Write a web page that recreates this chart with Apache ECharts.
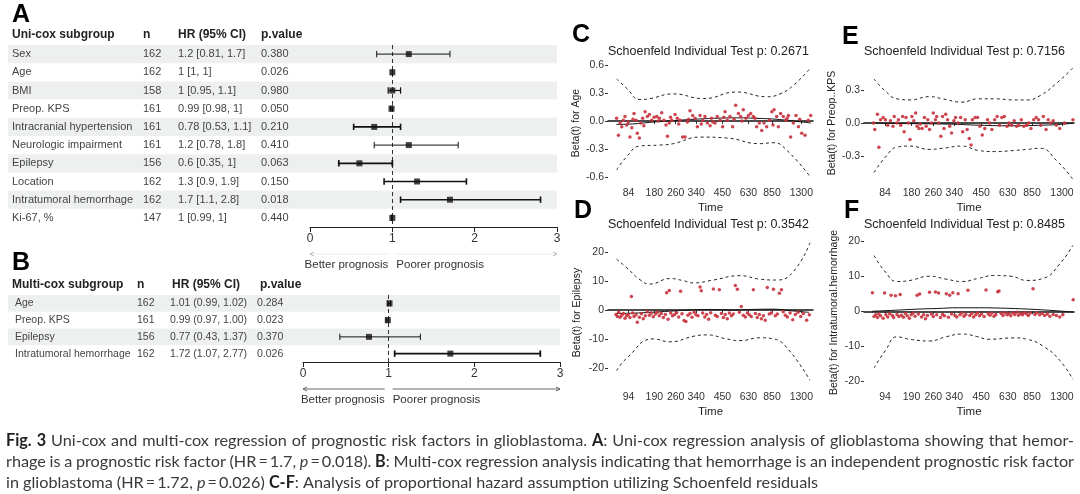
<!DOCTYPE html>
<html><head><meta charset="utf-8">
<script src="https://cdn.jsdelivr.net/npm/echarts@6/dist/echarts.min.js"></script>
<style>html,body{margin:0;padding:0;background:#fff}#c{width:1080px;height:494px}</style>
</head><body><div id="c"></div><script>
// ---------------- DATA ----------------
const uniLabels = ['Sex','Age','BMI','Preop. KPS','Intracranial hypertension','Neurologic impairment','Epilepsy','Location','Intratumoral hemorrhage','Ki-67, %'];
const uniN = [162,162,158,161,161,161,156,162,162,147];
const uniHR = [1.2,1,1,0.99,0.78,1.2,0.6,1.3,1.7,1];
const uniLow = [0.81,1,0.95,0.98,0.53,0.78,0.35,0.9,1.1,0.99];
const uniHigh = [1.7,1,1.1,1,1.1,1.8,1,1.9,2.8,1];
const uniP = ['0.380','0.026','0.980','0.050','0.210','0.410','0.063','0.150','0.018','0.440'];

const multiLabels = ['Age','Preop. KPS','Epilepsy','Intratumoral hemorrhage'];
const multiN = [162,161,156,162];
const multiHR = [1.01,0.99,0.77,1.72];
const multiLow = [0.99,0.97,0.43,1.07];
const multiHigh = [1.02,1.00,1.37,2.77];
const multiP = ['0.284','0.023','0.370','0.026'];

const hrTicks = [0,1,2,3];

// Schoenfeld panels: x = transformed time (0-100), labels at tick positions
const timeTickPos = [10,22.6,33,43,55.8,68.5,80,94.3];
const timeLabelsCE = ['84','180','260','340','450','630','850','1300'];
const timeLabelsDF = ['94','190','260','340','450','630','850','1300'];
const betaTicksSmall = [-0.6,-0.3,0,0.3,0.6];
const betaTicksE = [-0.3,0,0.3];
const betaTicksLarge = [-20,-10,0,10,20];

const ageResid = [[4.2,0.03],[5.1,-0.15],[5.9,-0.02],[6.7,-0.06],[7.5,0.01],[8.3,0.05],[9.1,-0.04],[9.9,-0.01],[10.7,-0.17],[11.6,-0.07],[12.2,0.02],[12.7,0.08],[13.7,0.01],[14.3,-0.13],[15.3,-0.18],[16.0,-0.02],[16.9,0.03],[17.5,-0.05],[18.1,0.10],[19.2,0.05],[20.2,0.07],[21.3,0.01],[22.5,0.04],[23.8,0.05],[24.5,0.0],[25.1,0.03],[26.2,0.09],[27.3,0.01],[28.3,-0.04],[29.0,-0.16],[29.9,-0.02],[30.5,0.04],[31.1,0.01],[32.7,0.07],[33.8,0.03],[34.5,-0.03],[35.1,0.01],[36.4,-0.17],[37.6,-0.17],[38.7,-0.01],[39.3,0.02],[40.0,0.11],[41.3,0.06],[42.5,0.03],[43.6,-0.06],[44.9,0.06],[45.5,-0.03],[46.2,0.01],[47.3,0.05],[48.5,-0.02],[49.8,-0.05],[50.5,0.03],[51.1,-0.01],[52.2,-0.02],[53.3,0.05],[54.7,0.01],[55.9,-0.06],[56.5,0.04],[57.1,0.10],[58.2,0.01],[59.5,0.05],[60.8,-0.06],[61.5,0.02],[62.3,0.17],[63.6,0.08],[64.7,0.05],[65.3,0.0],[66.0,0.12],[67.3,0.03],[68.5,0.06],[69.6,0.08],[70.9,0.05],[71.7,0.03],[72.5,-0.06],[73.8,-0.02],[75.0,-0.10],[76.1,-0.02],[77.4,-0.06],[78.7,0.01],[79.9,0.10],[80.5,-0.04],[81.0,0.12],[82.3,0.05],[83.1,-0.06],[84.2,0.08],[85.5,0.05],[86.8,0.01],[87.4,0.03],[88.0,0.06],[89.1,-0.17],[90.4,-0.02],[91.7,0.06],[92.9,-0.06],[93.5,0.02],[94.5,-0.13],[96.1,-0.15],[97.7,0.01],[98.9,0.06]];
const ageFit = [[4,-0.035],[12,-0.03],[22,-0.01],[32,0.005],[42,0.02],[52,0.03],[62,0.035],[72,0.03],[82,0.02],[91,0.0],[99,-0.02]];
const ageUpper = [[4.2,0.45],[9.1,0.35],[15.6,0.23],[20.5,0.24],[31.9,0.29],[46.5,0.24],[62.8,0.31],[77.4,0.26],[83.9,0.29],[90.4,0.38],[98.5,0.56]];
const ageLower = [[4.2,-0.52],[9.1,-0.38],[15.6,-0.265],[25.4,-0.255],[31.9,-0.24],[44.9,-0.17],[57.9,-0.18],[74.1,-0.24],[80.7,-0.23],[87.2,-0.31],[98.5,-0.59]];

const kpsResid = [[4.5,0.0],[5.1,-0.06],[6.4,0.08],[7.1,-0.22],[7.9,0.03],[9.1,0.05],[10.2,0.03],[11.3,-0.02],[12.6,0.02],[13.8,-0.03],[14.4,0.06],[15.7,0.0],[16.4,0.03],[17.5,-0.02],[18.4,0.06],[19.1,-0.08],[20.0,0.05],[21.1,0.0],[21.9,-0.15],[22.8,0.06],[23.7,0.02],[24.6,0.09],[25.3,-0.03],[26.2,-0.05],[26.8,-0.01],[27.7,-0.05],[28.8,0.05],[29.6,-0.03],[30.4,0.03],[31.2,-0.06],[32.1,0.0],[33.0,0.09],[34.0,0.03],[34.6,0.06],[35.5,0.0],[36.6,-0.12],[37.4,0.06],[38.1,-0.05],[38.9,0.08],[39.8,0.03],[40.8,-0.03],[41.7,-0.09],[42.8,0.02],[43.6,0.05],[44.8,0.0],[46.0,0.05],[47.0,-0.08],[48.2,0.03],[49.1,-0.06],[50.1,-0.14],[51.0,-0.20],[51.6,0.03],[52.9,0.05],[54.1,0.05],[55.2,-0.03],[56.3,-0.11],[57.5,-0.05],[58.8,0.03],[59.8,0.0],[60.9,-0.06],[62.2,0.03],[63.4,0.06],[64.5,-0.02],[65.6,0.05],[66.8,0.06],[68.1,-0.03],[69.1,0.0],[70.2,-0.02],[71.5,0.02],[72.7,-0.03],[73.8,-0.02],[74.9,0.03],[76.1,-0.03],[77.4,-0.02],[78.4,0.0],[79.5,-0.05],[80.8,0.03],[82.0,0.05],[83.1,0.03],[84.2,-0.02],[85.4,0.06],[86.7,-0.06],[87.7,0.03],[88.8,0.0],[90.1,0.02],[91.6,-0.02],[93.2,-0.05],[95.5,0.0],[99.5,0.03]];
const kpsFit = [[4.5,0.0],[20,-0.005],[40,-0.01],[55,-0.02],[70,-0.025],[85,-0.02],[95,-0.01],[99.5,0.0]];
const kpsUpper = [[4.8,0.40],[10.2,0.29],[15.7,0.22],[21.9,0.21],[31.2,0.24],[37.4,0.22],[46.7,0.19],[54.4,0.22],[62.2,0.22],[71.5,0.21],[77.7,0.21],[83.9,0.25],[91.6,0.36],[99.4,0.50]];
const kpsLower = [[4.8,-0.45],[10.2,-0.31],[15.7,-0.22],[21.9,-0.21],[31.2,-0.24],[37.4,-0.23],[46.7,-0.21],[54.4,-0.25],[62.2,-0.26],[71.5,-0.25],[77.7,-0.24],[83.9,-0.23],[91.6,-0.34],[99.4,-0.51]];

const epiResid = [[3.9,-1.5],[4.6,-2.2],[5.2,-0.8],[5.9,-2.5],[6.7,-1.8],[7.5,-1.2],[8.3,-2.8],[9.1,-2.0],[9.9,-1.5],[10.7,-2.6],[11.4,4.7],[12.0,-1.0],[12.7,-2.2],[13.7,-1.6],[14.3,-4.2],[15.3,-2.5],[16.3,-1.3],[17.2,-3.0],[18.2,-2.0],[19.2,-0.6],[20.2,-1.8],[21.1,-1.0],[22.1,-2.3],[23.1,-1.4],[24.1,-0.8],[25.0,-2.0],[26.0,-1.2],[27.0,-2.6],[28.0,-1.5],[28.6,6.0],[29.3,-3.2],[29.9,6.8],[30.6,-1.0],[31.5,-2.0],[32.5,-1.5],[33.5,-0.9],[34.5,-2.4],[35.4,6.5],[36.1,-1.3],[37.1,-3.6],[38.0,-4.0],[39.0,-1.8],[40.0,-1.2],[41.0,-2.5],[42.0,-0.8],[42.9,-1.6],[43.9,-2.0],[44.9,8.0],[45.5,6.7],[46.2,-1.0],[47.2,-2.4],[48.1,-1.5],[49.1,-3.2],[50.1,-0.9],[51.4,7.3],[52.4,-1.8],[53.3,-2.2],[54.3,7.0],[55.3,-1.2],[56.3,-2.6],[57.2,-1.5],[58.2,-3.0],[59.2,-1.0],[60.2,-2.0],[61.1,-1.4],[62.1,8.5],[63.1,7.2],[64.1,-0.8],[65.0,1.2],[66.0,-1.8],[67.0,-2.4],[68.0,-1.0],[68.9,-1.6],[69.9,-2.2],[70.9,7.0],[71.9,-1.2],[72.8,-2.6],[73.8,-1.5],[74.8,-3.0],[75.8,-2.0],[76.7,-3.5],[77.7,7.8],[78.7,-1.4],[79.7,-1.0],[80.7,7.2],[81.6,-2.0],[82.6,-1.4],[83.6,5.8],[84.6,7.0],[85.5,-0.6],[86.5,-1.8],[87.5,-2.4],[88.8,-1.0],[90.1,-3.4],[91.4,-1.5],[92.7,-0.8],[94.0,-2.2],[95.3,-1.2],[96.9,-3.5],[98.2,-1.6]];
const epiFit = [[4,-1.2],[15,-1.0],[30,-0.4],[40,0.0],[50,0.2],[60,0.0],[70,0.2],[80,0.3],[90,-0.3],[98,-0.8]];
const epiUpper = [[4.2,17.6],[9.1,14.7],[15.6,10.5],[20.5,9.0],[30.2,10.9],[36.7,10.2],[41.6,9.4],[51.4,10.4],[64.4,11.9],[74.1,10.7],[82.3,10.4],[90.4,13.3],[98.5,23.3]];
const epiLower = [[4.2,-21],[9.1,-16.7],[22.1,-10],[30.2,-11],[41.6,-9.1],[48.1,-8.6],[57.9,-10],[64.4,-10.6],[74.1,-9.6],[80.7,-10],[87.2,-13],[98.5,-24.3]];

const hemResid = [[4.0,5.3],[4.8,-1.5],[5.6,-1.0],[6.4,-1.8],[7.1,-0.8],[7.9,-1.3],[9.1,-2.0],[9.8,5.2],[10.4,-1.0],[11.3,-1.6],[12.2,-0.7],[12.9,4.6],[13.5,-1.2],[14.1,-1.8],[15.0,4.4],[15.7,-0.9],[16.6,-1.5],[17.2,4.8],[17.8,-1.1],[18.8,-1.7],[19.7,-0.6],[20.6,-1.3],[21.6,-2.0],[22.5,-1.0],[23.4,-0.5],[24.3,-1.4],[25.3,4.6],[25.9,-0.8],[26.5,4.9],[27.4,-1.6],[28.4,-1.0],[29.3,-2.1],[30.2,-1.2],[31.2,5.4],[32.1,-0.8],[33.0,-1.5],[34.0,5.5],[34.6,-1.0],[35.5,5.2],[36.4,-1.8],[37.4,-0.9],[38.3,-1.3],[39.2,5.0],[40.2,-1.7],[40.8,4.6],[41.7,-0.8],[42.3,5.3],[43.3,-1.2],[44.2,-1.6],[44.8,5.0],[45.7,-1.0],[46.7,-0.5],[47.6,-1.4],[48.5,-0.9],[49.5,6.0],[50.4,-1.2],[51.3,-0.6],[52.2,-1.6],[53.2,-1.0],[54.1,-0.4],[55.0,-1.3],[56.0,-0.8],[57.2,-1.5],[58.1,6.1],[59.1,-0.7],[60.0,-1.1],[60.9,-0.5],[61.9,-1.4],[62.8,-0.9],[63.7,5.6],[64.3,5.8],[65.3,-0.6],[66.2,-1.2],[67.1,-0.4],[68.1,-1.0],[69.0,-0.7],[69.9,-1.3],[70.9,-0.5],[71.8,-0.9],[72.7,-0.3],[73.6,-1.1],[74.6,-0.6],[75.5,-1.0],[76.4,-0.4],[77.4,-0.8],[78.3,-1.2],[79.2,-0.5],[80.5,6.4],[81.4,-0.9],[82.3,-0.4],[83.6,-1.0],[84.8,-0.6],[86.0,-1.2],[87.3,-0.8],[88.5,-1.4],[90.1,-0.9],[91.6,-1.2],[93.2,-1.6],[94.7,-1.0],[99.6,3.3]];
const hemFit = [[4,0.0],[15,0.3],[25,0.6],[35,0.8],[45,1.0],[55,1.0],[65,0.9],[75,0.7],[85,0.4],[95,0.0],[99.6,-0.2]];
const hemUpper = [[4.8,15.9],[10.2,11.2],[15.7,8.5],[21.9,8.8],[31.2,10.0],[38.9,9.2],[46.7,8.5],[54.4,9.4],[62.2,10.2],[69.9,10.0],[77.7,8.8],[85.4,9.4],[93.2,13.5],[99.4,18.8]];
const hemLower = [[4.8,-16.2],[10.2,-11.2],[15.7,-7.3],[21.9,-8.0],[31.2,-8.5],[38.9,-7.3],[46.7,-6.5],[54.4,-7.3],[59.1,-8.0],[71.5,-7.6],[77.7,-8.0],[85.4,-10.0],[93.2,-14.0],[99.4,-19.4]];

// ---------------- STYLE ----------------
const FF = '"Liberation Sans", Arial, sans-serif';
const uniLineW = [1,1,1.2,1,1.6,1,1.8,1.6,1.6,1];
const multiLineW = [1,1,1,1.8];
const bandFill = '#edf0ef';

const chart = echarts.init(document.getElementById('c'), null, {renderer:'canvas'});

function tableRows(ai, labels, ns, cis, ps, cols, band, fs) {
  return {
    type:'custom', xAxisIndex:ai, yAxisIndex:ai, z:1, silent:true, clip:false,
    data: labels.map((l,i)=>[0,i]), encode:{x:0,y:1},
    renderItem:(params, api)=>{
      const i = api.value(1);
      const y = api.coord([0,i])[1];
      const h = api.size([0,1])[1];
      const ch = [];
      if (i%2===0) ch.push({type:'rect', shape:{x:band[0], y:y-h/2, width:band[1]-band[0], height:h}, style:{fill:bandFill}});
      [labels[i], String(ns[i]), cis[i], ps[i]].forEach((t,k)=>ch.push({type:'text', style:{text:t, x:cols[k], y:y, fill:'#444', fontSize:fs, fontFamily:FF, verticalAlign:'middle', align:'left'}}));
      return {type:'group', children:ch};
    }
  };
}
function ciSeries(ai, hr, lo, hi, lw) {
  return {
    type:'custom', xAxisIndex:ai, yAxisIndex:ai, z:3, silent:true, clip:false,
    data: hr.map((h,i)=>[h,i,lo[i],hi[i]]), encode:{x:[0,2,3], y:1},
    renderItem:(params, api)=>{
      const i = api.value(1);
      const a = api.coord([api.value(2), i]), b = api.coord([api.value(3), i]);
      const w = lw[i], cap = 3.2, st = {stroke:'#111', lineWidth:w};
      return {type:'group', children:[
        {type:'line', shape:{x1:a[0],y1:a[1],x2:b[0],y2:b[1]}, style:st},
        {type:'line', shape:{x1:a[0],y1:a[1]-cap,x2:a[0],y2:a[1]+cap}, style:st},
        {type:'line', shape:{x1:b[0],y1:b[1]-cap,x2:b[0],y2:b[1]+cap}, style:st}
      ]};
    }
  };
}
function boxSeries(ai, hr) {
  return {
    type:'scatter', xAxisIndex:ai, yAxisIndex:ai, symbol:'rect', symbolSize:6, z:4, silent:true,
    itemStyle:{color:'#111'}, data: hr.map((h,i)=>[h,i]),
    markLine:{silent:true, symbol:['none','none'], label:{show:false}, z:2,
      lineStyle:{color:'#333', type:[4,3], width:1}, data:[{xAxis:1}]}
  };
}
function arrowSeries(ai, lastIdx, faint) {
  return {
    type:'custom', xAxisIndex:ai, yAxisIndex:ai, z:2, silent:true, clip:false,
    data:[[1,lastIdx]], encode:{x:0,y:1},
    renderItem:(params, api)=>{
      const cs = params.coordSys;
      const yAx = cs.y + cs.height;
      const x0 = api.coord([hrTicks[0], lastIdx])[0], x1 = api.coord([hrTicks[1], lastIdx])[0], x3 = api.coord([hrTicks[3], lastIdx])[0];
      const ya = yAx + 27, yt = yAx + 38;
      const lc = faint ? '#ececec' : '#666', hc = faint ? '#b5b5b5' : '#666';
      return {type:'group', children:[
        {type:'line', shape:{x1:x1-4,y1:ya,x2:x0,y2:ya}, style:{stroke:lc, lineWidth:1}},
        {type:'polyline', shape:{points:[[x0+4,ya-2],[x0,ya],[x0+4,ya+2]]}, style:{stroke:hc, lineWidth:1, fill:null}},
        {type:'line', shape:{x1:x1+4,y1:ya,x2:x3,y2:ya}, style:{stroke:lc, lineWidth:1}},
        {type:'polyline', shape:{points:[[x3-4,ya-2],[x3,ya],[x3-4,ya+2]]}, style:{stroke:hc, lineWidth:1, fill:null}},
        {type:'text', style:{text:'Better prognosis', x:x1-4, y:yt, align:'right', verticalAlign:'middle', fontSize:11.5, fontFamily:FF, fill:'#333'}},
        {type:'text', style:{text:'Poorer prognosis', x:x1+4, y:yt, align:'left', verticalAlign:'middle', fontSize:11.5, fontFamily:FF, fill:'#333'}}
      ]};
    }
  };
}

const uniCI = uniHR.map((h,i)=>`${h} [${uniLow[i]}, ${uniHigh[i]}]`);
const multiCI = multiHR.map((h,i)=>`${h.toFixed(2)} (${multiLow[i].toFixed(2)}, ${multiHigh[i].toFixed(2)})`);

// grids: 0 forest A, 1 forest B, 2 C, 3 E, 4 D, 5 F
const grids = [
  {left:310, top:45, width:247, height:182},
  {left:303, top:295, width:257, height:67},
  {left:608, top:62, width:205, height:122},
  {left:864, top:62, width:210, height:122},
  {left:608, top:237, width:205, height:151},
  {left:864, top:237, width:210, height:151}
].map(g=>Object.assign(g,{containLabel:false, outerBoundsMode:'none'}));

const forestX = gi => ({gridIndex:gi, type:'value', min:hrTicks[0], max:hrTicks[3], interval:1,
  axisLine:{show:true, lineStyle:{color:'#222', width:1}}, axisTick:{show:true, length:5, lineStyle:{color:'#222'}},
  axisLabel:{fontSize:12, color:'#333', margin:6, fontFamily:FF}, splitLine:{show:false}});
const forestY = (gi, cats) => ({gridIndex:gi, type:'category', data:cats, inverse:true, show:false});

function schX(gi, labels) {
  return {gridIndex:gi, type:'value', min:0, max:100,
    axisLine:{show:true, lineStyle:{color:'#111', width:1.5}},
    axisTick:{show:true, customValues:timeTickPos, length:3, lineStyle:{color:'#333'}},
    axisLabel:{customValues:timeTickPos, formatter:v=>labels[timeTickPos.indexOf(v)], fontSize:10.5, color:'#333', margin:4, fontFamily:FF},
    splitLine:{show:false}, name:'Time', nameLocation:'middle', nameGap:18,
    nameTextStyle:{fontSize:11.5, color:'#222', fontFamily:FF}};
}
function schY(gi, min, max, ticks, dec, name, gap) {
  return {gridIndex:gi, type:'value', min:min, max:max,
    axisLine:{show:false}, axisTick:{show:true, customValues:ticks, length:3, lineStyle:{color:'#333'}},
    axisLabel:{customValues:ticks, formatter:v=>v.toFixed(dec), fontSize:10.5, color:'#333', margin:4, fontFamily:FF},
    splitLine:{show:false}, name:name, nameLocation:'middle', nameRotate:90, nameGap:gap,
    nameTextStyle:{fontSize:10.5, color:'#222', fontFamily:FF}};
}
function schSeries(gi, resid, fit, up, lo) {
  const dash = {color:'#222', width:1, type:[3,3]};
  return [
    {type:'line', xAxisIndex:gi, yAxisIndex:gi, data:up, smooth:0.5, showSymbol:false, symbol:'none', lineStyle:dash, silent:true, z:2},
    {type:'line', xAxisIndex:gi, yAxisIndex:gi, data:lo, smooth:0.5, showSymbol:false, symbol:'none', lineStyle:dash, silent:true, z:2},
    {type:'line', xAxisIndex:gi, yAxisIndex:gi, data:fit, smooth:0.5, showSymbol:false, symbol:'none', lineStyle:{color:'#111', width:1}, silent:true, z:2},
    {type:'scatter', xAxisIndex:gi, yAxisIndex:gi, data:resid, symbolSize:3.5, itemStyle:{color:'#c8323c', opacity:0.9}, silent:true, z:3}
  ];
}

// ---------------- TEXT / GRAPHICS ----------------
const g = [];
function txt(text, x, y, o) {
  g.push({type:'text', x:x, y:y, silent:true, style:Object.assign({text:text, fontFamily:FF, fontSize:11.5, fill:'#222', verticalAlign:'middle', align:'left'}, o||{})});
}
const letter = {fontSize:25, fontWeight:'bold', fill:'#000'};
txt('A', 12, 15, letter); txt('B', 12, 263, letter);
txt('C', 572, 35, letter); txt('E', 842, 37, letter);
txt('D', 574, 211, letter); txt('F', 844, 211, letter);
const hdr = {fontWeight:'bold', fontSize:12, fill:'#222'};
txt('Uni-cox subgroup', 12, 35, hdr); txt('n', 143, 35, hdr); txt('HR (95% CI)', 178, 35, hdr); txt('p.value', 261, 35, hdr);
txt('Multi-cox subgroup', 12, 285, hdr); txt('n', 137, 285, hdr); txt('HR (95% CI)', 172, 285, hdr); txt('p.value', 260, 285, hdr);
const tt = {fontSize:12.5, fill:'#222'};
txt('Schoenfeld Individual Test p: 0.2671', 608, 52, tt);
txt('Schoenfeld Individual Test p: 0.7156', 864, 52, tt);
txt('Schoenfeld Individual Test p: 0.3542', 608, 225, tt);
txt('Schoenfeld Individual Test p: 0.8485', 864, 225, tt);

// caption with justification
const capLines = [
  {just:true, runs:[['Fig. 3','b'],['  Uni-cox and multi-cox regression of prognostic risk factors in glioblastoma. ','n'],['A','b'],[': Uni-cox regression analysis of glioblastoma showing that hemor-','n']]},
  {just:true, runs:[['rhage is a prognostic risk factor (HR\u2009=\u20091.7, ','n'],['p','i'],['\u2009=\u20090.018). ','n'],['B','b'],[': Multi-cox regression analysis indicating that hemorrhage is an independent prognostic risk factor','n']]},
  {just:false, runs:[['in glioblastoma (HR\u2009=\u20091.72, ','n'],['p','i'],['\u2009=\u20090.026) ','n'],['C-F','b'],[': Analysis of proportional hazard assumption utilizing Schoenfeld residuals','n']]}
];
const capY = [441, 462, 483], capX0 = 6, capX1 = 1074;
const cctx = document.createElement('canvas').getContext('2d');
const CF = 'Lato, "Open Sans", sans-serif';
function fontOf(st, fs) { return (st==='i'?'italic ':'normal ') + (st==='b'?'bold ':'normal ') + fs + 'px ' + CF; }
function words(runs) {
  const ws = []; let cur = [];
  runs.forEach(([t, st])=>{
    let buf = '';
    for (const ch of t) {
      if (ch === ' ') { if (buf) { cur.push([buf, st]); buf=''; } if (cur.length) { ws.push(cur); cur=[]; } }
      else buf += ch;
    }
    if (buf) cur.push([buf, st]);
  });
  if (cur.length) ws.push(cur);
  return ws;
}
function wWidth(w, fs) { return w.reduce((s,[t,st])=>{cctx.font=fontOf(st,fs); return s+cctx.measureText(t).width;},0); }
cctx.font = fontOf('n', 15); const sp15 = cctx.measureText(' ').width;
const w1 = words(capLines[0].runs);
const nat1 = w1.reduce((s,w)=>s+wWidth(w,15),0) + sp15*(w1.length-1);
const capFS = Math.min(16.5, 15*((capX1-capX0)*0.985)/nat1);
capLines.forEach((ln, li)=>{
  const ws = words(ln.runs);
  const widths = ws.map(w=>wWidth(w, capFS));
  cctx.font = fontOf('n', capFS); const sp = cctx.measureText(' ').width;
  const total = widths.reduce((a,b)=>a+b,0);
  const gap = ln.just ? (capX1-capX0-total)/(ws.length-1) : sp;
  let x = capX0;
  ws.forEach((w, wi)=>{
    let xx = x;
    w.forEach(([t, st])=>{
      cctx.font = fontOf(st, capFS);
      g.push({type:'text', x:xx, y:capY[li], silent:true, style:{text:t, font:fontOf(st, capFS), fill: st==='b' ? '#1e1e1e' : '#3a3a3a', verticalAlign:'middle', align:'left'}});
      xx += cctx.measureText(t).width;
    });
    x += widths[wi] + gap;
  });
});

const option = {
  animation:false, backgroundColor:'#fff',
  grid: grids,
  xAxis: [forestX(0), forestX(1), schX(2, timeLabelsCE), schX(3, timeLabelsCE), schX(4, timeLabelsDF), schX(5, timeLabelsDF)],
  yAxis: [forestY(0, uniLabels), forestY(1, multiLabels),
    schY(2, -0.67, 0.63, betaTicksSmall, 1, 'Beta(t) for Age', 25),
    schY(3, -0.555, 0.555, betaTicksE, 1, 'Beta(t) for Preop..KPS', 24),
    schY(4, -27, 25.3, betaTicksLarge, 0, 'Beta(t) for Epilepsy', 25),
    schY(5, -21.9, 21.2, betaTicksLarge, 0, 'Beta(t) for Intratumoral.hemorrhage', 24)],
  series: [
    tableRows(0, uniLabels, uniN, uniCI, uniP, [12,143,178,261], [8,557], 11),
    ciSeries(0, uniHR, uniLow, uniHigh, uniLineW),
    boxSeries(0, uniHR),
    arrowSeries(0, uniLabels.length-1, true),
    tableRows(1, multiLabels, multiN, multiCI, multiP, [15,137,170,257], [8,560], 10.5),
    ciSeries(1, multiHR, multiLow, multiHigh, multiLineW),
    boxSeries(1, multiHR),
    arrowSeries(1, multiLabels.length-1, false),
    ...schSeries(2, ageResid, ageFit, ageUpper, ageLower),
    ...schSeries(3, kpsResid, kpsFit, kpsUpper, kpsLower),
    ...schSeries(4, epiResid, epiFit, epiUpper, epiLower),
    ...schSeries(5, hemResid, hemFit, hemUpper, hemLower)
  ],
  graphic: g
};
chart.setOption(option);
</script></body></html>
